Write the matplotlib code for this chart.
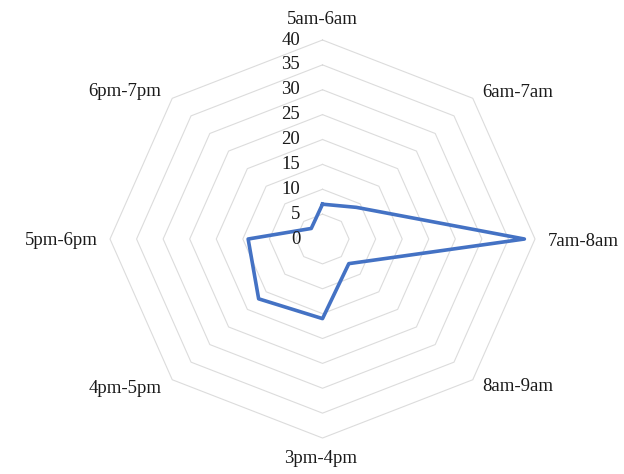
import matplotlib
matplotlib.use('Agg')
import matplotlib.pyplot as plt
import numpy as np

categories = ['5am-6am', '6am-7am', '7am-8am', '8am-9am',
              '3pm-4pm', '4pm-5pm', '5pm-6pm', '6pm-7pm']
values = [7, 9, 38, 7, 16, 17, 14, 3]
rings = [5, 10, 15, 20, 25, 30, 35, 40]
tick_labels = [0, 5, 10, 15, 20, 25, 30, 35, 40]

plt.rcParams['font.family'] = ['Liberation Serif', 'DejaVu Serif']
plt.rcParams['font.size'] = 13.5

n = len(categories)
angles = np.arange(n) * 2 * np.pi / n
closed = np.append(angles, angles[0])

fig = plt.figure(figsize=(6.24, 4.74), dpi=100)
ax = fig.add_axes([0.1763, 0.0759, 0.6811, 0.8397], projection='polar')
ax.set_aspect('auto')
ax.set_theta_zero_location('N')
ax.set_theta_direction(-1)
ax.set_ylim(0, 40)
ax.set_axis_off()

# octagon gridlines
for r in rings:
    ax.plot(closed, [r] * (n + 1), color='#DCDCDC', lw=0.8, clip_on=False, zorder=1)

ax.plot(closed, values + values[:1], color='#4472C4', lw=2.6, clip_on=False, zorder=3)

# radial tick labels
for v in tick_labels:
    ax.annotate(str(v), xy=(0, v), xytext=(-16, 0), textcoords='offset points',
                ha='right', va='center', color='#1a1a1a', annotation_clip=False)

# category labels
offsets = [(0, 15, 'center'), (7, 4.5, 'left'), (9, -1.5, 'left'), (7, -5, 'left'),
           (-1.5, -15, 'center'), (-7.7, -6, 'right'), (-9, -0.75, 'right'), (-7.7, 4.7, 'right')]
for a, lab, (dx, dy, ha) in zip(angles, categories, offsets):
    ax.annotate(lab, xy=(a, 40), xytext=(dx, dy), textcoords='offset points',
                ha=ha, va='center', color='#1a1a1a', annotation_clip=False)

plt.savefig('out.png', dpi=100)
